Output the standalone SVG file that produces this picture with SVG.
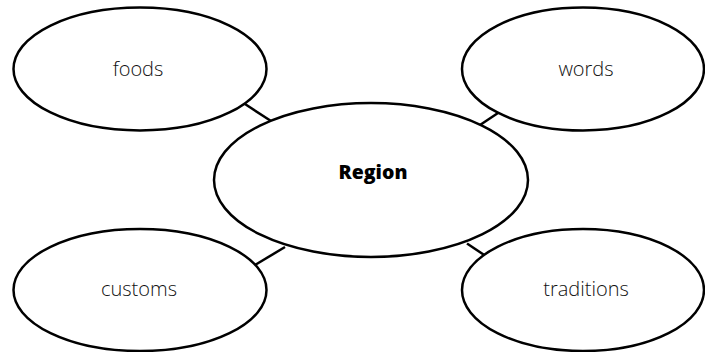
<svg xmlns="http://www.w3.org/2000/svg" width="705" height="352" viewBox="0 0 705 352">
<style>
.n{fill:#fff;stroke:#000;stroke-width:2.5}
.c line{stroke:#000;stroke-width:2.5}
.t{font-family:"Open Sans","Noto Sans",sans-serif;font-size:20px;fill:#111;text-anchor:middle;font-weight:300}
.b{font-family:"Open Sans","Noto Sans",sans-serif;font-size:19.5px;fill:#000;text-anchor:middle;font-weight:800}
</style>
<rect width="705" height="352" fill="#fff"/>
<g id="connectors" class="c">
<line x1="245" y1="104" x2="271" y2="121"/>
<line x1="480" y1="125" x2="498" y2="113"/>
<line x1="255" y1="265" x2="285" y2="247"/>
<line x1="467" y1="243.5" x2="485" y2="255.5"/>
</g>
<g id="region"><ellipse class="n" cx="371" cy="180" rx="157" ry="77"/><text class="b" x="373" y="179">Region</text></g>
<g id="foods"><ellipse class="n" cx="140" cy="69" rx="126.5" ry="61.5"/><text class="t" x="138" y="76">foods</text></g>
<g id="words"><ellipse class="n" cx="583" cy="69" rx="121" ry="61.5"/><text class="t" x="586" y="76">words</text></g>
<g id="customs"><ellipse class="n" cx="140" cy="290" rx="126.5" ry="61"/><text class="t" x="139" y="296">customs</text></g>
<g id="traditions"><ellipse class="n" cx="583" cy="290" rx="121" ry="61"/><text class="t" x="586" y="296">traditions</text></g>
</svg>
